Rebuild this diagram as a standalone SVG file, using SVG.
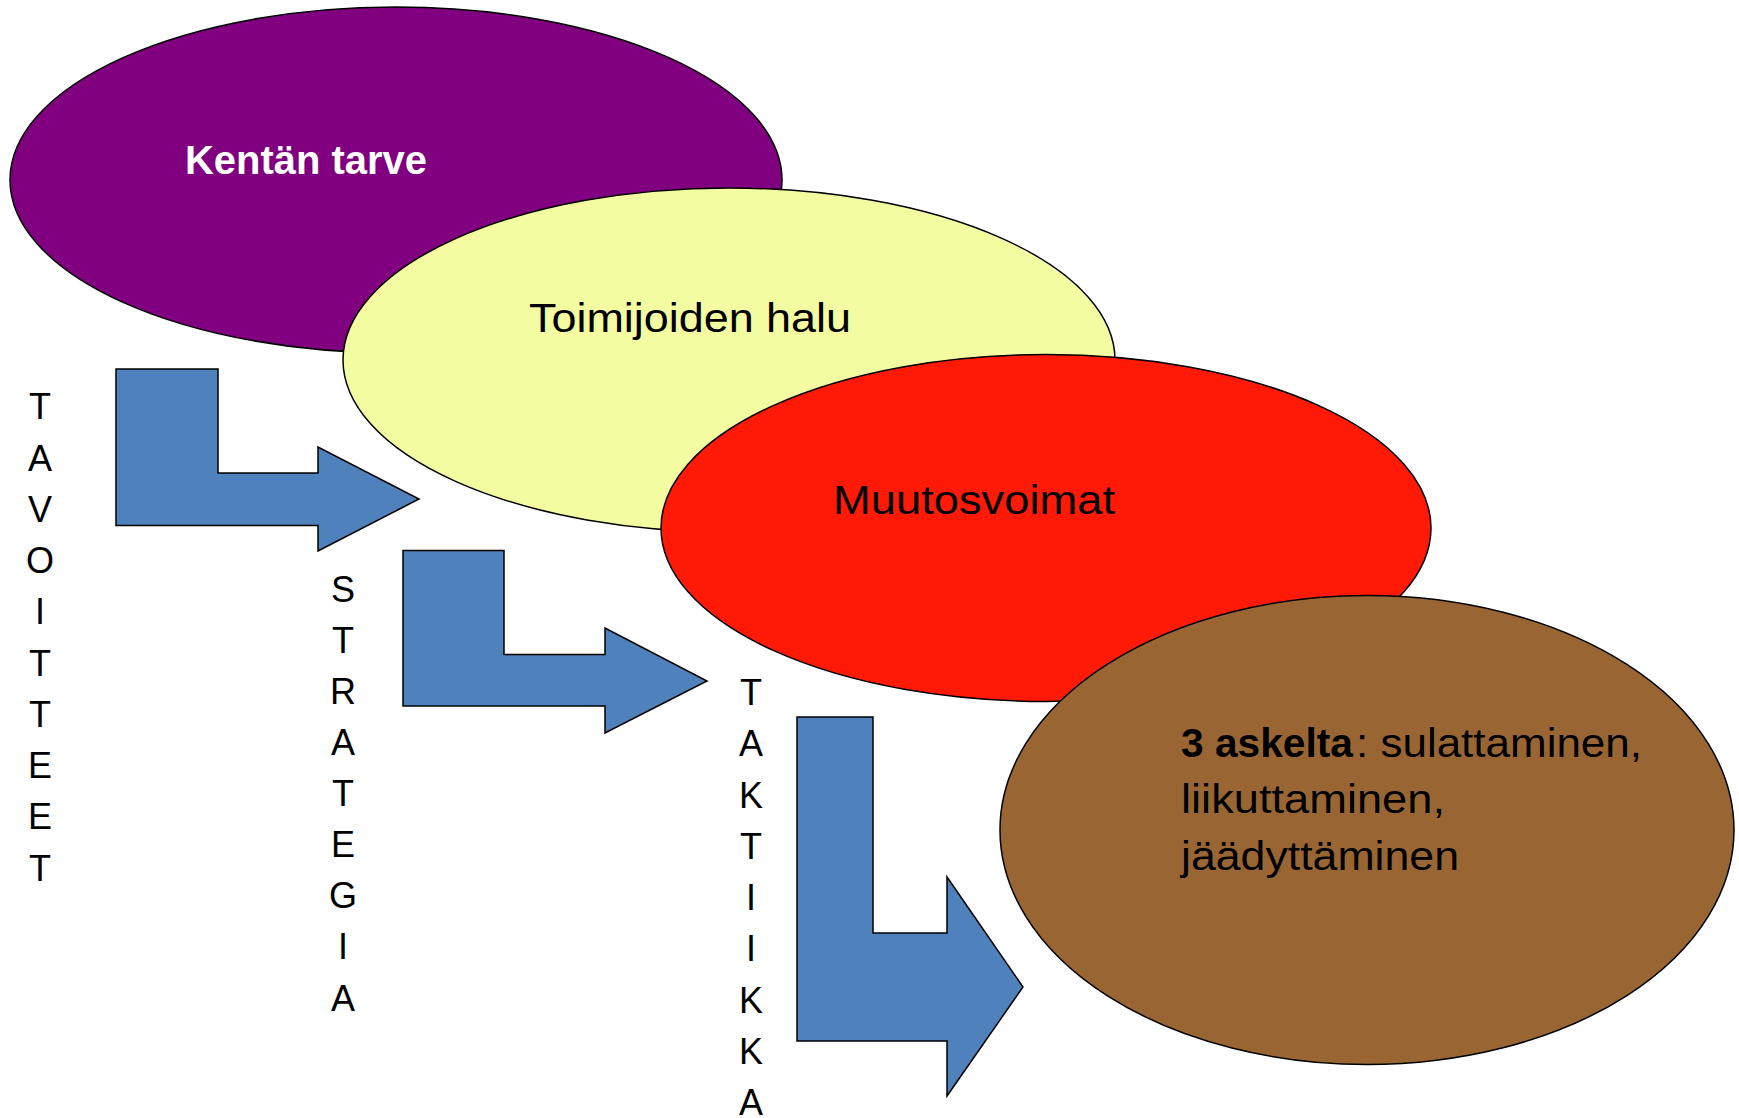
<svg xmlns="http://www.w3.org/2000/svg" width="1739" height="1118" viewBox="0 0 1739 1118">
<style>
.node{stroke:#000;stroke-width:1.5}
.lbl{font-family:"Liberation Sans",Arial,sans-serif;font-size:40px;fill:#000}
.vert{font-family:"Liberation Sans",Arial,sans-serif;font-size:36px;fill:#000;text-anchor:middle}
.arrow{fill:#4f81bd;stroke:#000;stroke-width:1.5;stroke-linejoin:miter}
</style>
<rect width="1739" height="1118" fill="#fff"/>
<g id="node-kentan-tarve">
<ellipse class="node" cx="396" cy="180" rx="386" ry="173" fill="#800080"/>
<text class="lbl" x="185" y="174" font-weight="bold" fill="#fff" style="fill:#fff" textLength="242" lengthAdjust="spacingAndGlyphs">Kentän tarve</text>
</g>
<g id="node-toimijoiden-halu">
<ellipse class="node" cx="729" cy="360" rx="386" ry="172" fill="#f3fca1"/>
<text class="lbl" x="529" y="332" textLength="322" lengthAdjust="spacingAndGlyphs">Toimijoiden halu</text>
</g>
<g id="node-muutosvoimat">
<ellipse class="node" cx="1046" cy="528" rx="385" ry="173.5" fill="#ff1a08"/>
<text class="lbl" x="833" y="514" textLength="282" lengthAdjust="spacingAndGlyphs">Muutosvoimat</text>
</g>
<g id="node-3-askelta">
<ellipse class="node" cx="1367" cy="830" rx="367" ry="234.5" fill="#996633"/>
<text class="lbl" x="1181" y="757" font-weight="bold" textLength="172" lengthAdjust="spacingAndGlyphs">3 askelta</text>
<text class="lbl" x="1356" y="757" textLength="286" lengthAdjust="spacingAndGlyphs">: sulattaminen,</text>
<text class="lbl" x="1181" y="813" textLength="264" lengthAdjust="spacingAndGlyphs">liikuttaminen,</text>
<text class="lbl" x="1181" y="870" textLength="278" lengthAdjust="spacingAndGlyphs">jäädyttäminen</text>
</g>
<g id="connectors">
<polygon class="arrow" points="116,369 218,369 218,473 318,473 318,447 419,499 318,551 318,525.5 116,525.5"/>
<polygon class="arrow" points="403,550.5 504,550.5 504,654.5 605,654.5 605,628 707,681 605,733 605,706 403,706"/>
<polygon class="arrow" points="797,717 873,717 873,933 947,933 947,877 1023,987 947,1096 947,1041 797,1041"/>
</g>
<g id="label-tavoitteet">
<text class="vert"><tspan x="40" y="419.3">T</tspan><tspan x="40" y="470.5">A</tspan><tspan x="40" y="521.8">V</tspan><tspan x="40" y="573">O</tspan><tspan x="40" y="624.3">I</tspan><tspan x="40" y="675.5">T</tspan><tspan x="40" y="726.8">T</tspan><tspan x="40" y="778">E</tspan><tspan x="40" y="829.3">E</tspan><tspan x="40" y="880.5">T</tspan></text>
</g>
<g id="label-strategia">
<text class="vert"><tspan x="343" y="601.7">S</tspan><tspan x="343" y="652.8">T</tspan><tspan x="343" y="703.9">R</tspan><tspan x="343" y="755">A</tspan><tspan x="343" y="806.1">T</tspan><tspan x="343" y="857.2">E</tspan><tspan x="343" y="908.3">G</tspan><tspan x="343" y="959.4">I</tspan><tspan x="343" y="1010.5">A</tspan></text>
</g>
<g id="label-taktiikka">
<text class="vert"><tspan x="751" y="705">T</tspan><tspan x="751" y="756.3">A</tspan><tspan x="751" y="807.5">K</tspan><tspan x="751" y="858.8">T</tspan><tspan x="751" y="910">I</tspan><tspan x="751" y="961.3">I</tspan><tspan x="751" y="1012.5">K</tspan><tspan x="751" y="1063.8">K</tspan><tspan x="751" y="1115">A</tspan></text>
</g>
</svg>
